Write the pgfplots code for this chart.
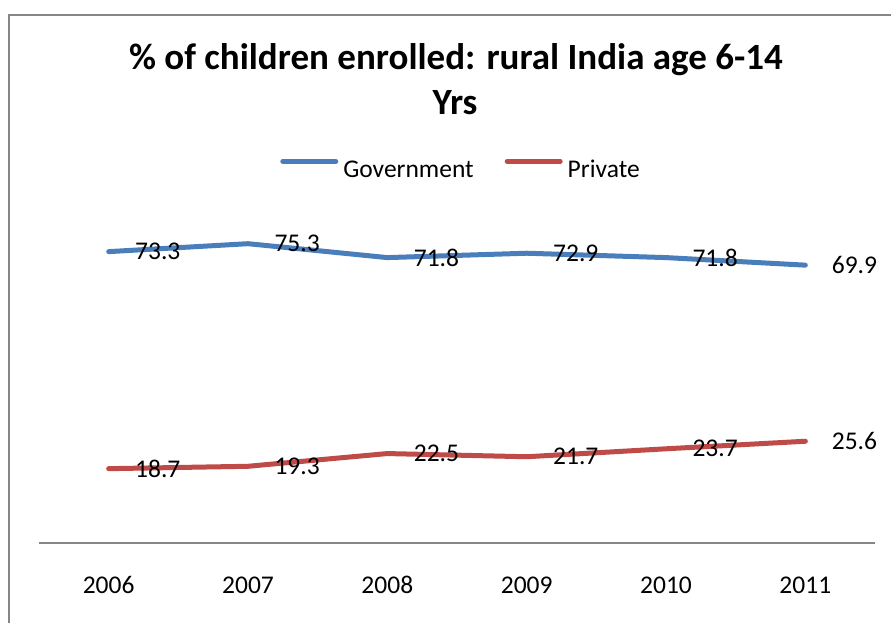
\documentclass[border=0pt]{standalone}
\usepackage{pgfplots}
\pgfplotsset{compat=1.18}
\usepackage{fontspec}
\setmainfont{Carlito}
\definecolor{gov}{HTML}{4A7EBB}
\definecolor{pri}{HTML}{BE4B48}
\definecolor{axgray}{HTML}{868686}
\begin{document}
\begin{tikzpicture}[x=1pt,y=1pt]
\useasboundingbox (0,0) rectangle (891,622);
\draw[axgray, line width=1.6pt] (9,-5) -- (9,607) -- (900,607);
\node[anchor=base, inner sep=0pt, font=\fontsize{37}{44}\selectfont\bfseries] at (456,552) {\% of children enrolled: rural India age 6-14};
\node[anchor=base, inner sep=0pt, font=\fontsize{37}{44}\selectfont\bfseries] at (455,507) {Yrs};
\begin{axis}[
  at={(39pt,79pt)}, anchor=south west,
  scale only axis, width=836pt, height=318pt,
  xmin=-0.5, xmax=5.5, ymin=0, ymax=80,
  clip=false,
  axis x line*=bottom,
  hide y axis,
  x axis line style={axgray, line width=1.5pt, -},
  xtick={0,1,2,3,4,5},
  xticklabels={2006,2007,2008,2009,2010,2011},
  major tick length=0pt,
  /pgf/number format/assume math mode=true,
  xticklabel style={anchor=base, yshift=-50pt, font=\fontsize{25.5}{30}\selectfont},
  nodes near coords,
  every node near coord/.append style={anchor=west, inner sep=0pt, xshift=24pt, font=\fontsize{25.5}{30}\selectfont, text=black},
  /pgf/number format/.cd, fixed, precision=1, fixed zerofill, /pgfplots/.cd,
  legend columns=2,
  legend style={draw=none, fill=none, at={(0.5036,1.176)}, anchor=center,
    font=\fontsize{25.5}{30}\selectfont, nodes={inner sep=0pt},
    /tikz/every even column/.append style={column sep=31pt}},
  legend image code/.code={\draw[#1, line width=5pt, line cap=round] (0pt,8.5pt) -- (53pt,8.5pt); \path (58pt,0pt);},
]
\addplot[gov, line width=5pt, line join=round, line cap=round] coordinates {(0,73.3) (1,75.3) (2,71.8) (3,72.9) (4,71.8) (5,69.9)};
\addlegendentry{Government}
\addplot[pri, line width=5pt, line join=round, line cap=round] coordinates {(0,18.7) (1,19.3) (2,22.5) (3,21.7) (4,23.7) (5,25.6)};
\addlegendentry{Private}
\end{axis}
\end{tikzpicture}
\end{document}
